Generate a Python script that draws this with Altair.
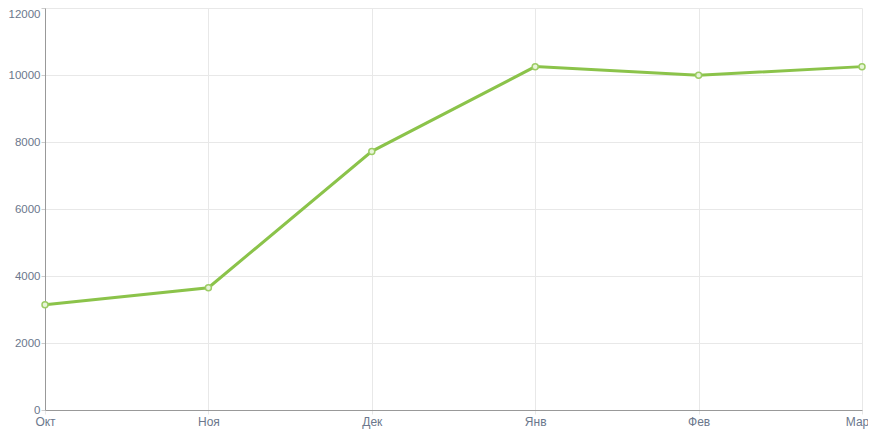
import altair as alt
import pandas as pd

months = ["Окт", "Ноя", "Дек", "Янв", "Фев", "Мар"]
values = [3140, 3650, 7720, 10250, 9990, 10250]

df = pd.DataFrame({"month": months, "value": values})

x = alt.X("month:N", sort=months, title=None,
          scale=alt.Scale(type="point", padding=0),
          axis=alt.Axis(labelAngle=0, labelColor="#6b778c", labelFontSize=12,
                        labelFont="Liberation Sans", domainColor="#999999",
                        gridColor="#e8e8e8", tickColor="#e8e8e8", tickSize=4,
                        labelPadding=2,
                        labelOffset=alt.ExprRef("datum.value == 'Мар' ? -5 : 0")))
y = alt.Y("value:Q", title=None,
          scale=alt.Scale(domain=[0, 12000], nice=False),
          axis=alt.Axis(values=[0, 2000, 4000, 6000, 8000, 10000, 12000],
                        labelColor="#6b778c", labelFontSize=11.5,
                        labelFont="Liberation Sans", domainColor="#999999",
                        gridColor="#e8e8e8", tickColor="#cccccc", tickSize=4,
                        labelPadding=1, format="d",
                        labelBaseline=alt.ExprRef("datum.value == 12000 ? 'top' : 'middle'")))

line = alt.Chart(df).mark_line(color="#8bc34a", strokeWidth=3).encode(x=x, y=y)
pts = alt.Chart(df).mark_point(shape="circle", size=36, filled=True,
                               fill="#e8f5d8", stroke="#9ccc65",
                               strokeWidth=1.5, opacity=1).encode(x=x, y=y)

chart = (line + pts).properties(
    width=817, height=402,
    autosize=alt.AutoSizeParams(type="none"),
    padding={"left": 37, "top": 0, "right": 6, "bottom": 20},
).configure_view(stroke=None).configure_axis(grid=True)

chart.save("out.html", embed_options={"renderer": "svg", "actions": False})
